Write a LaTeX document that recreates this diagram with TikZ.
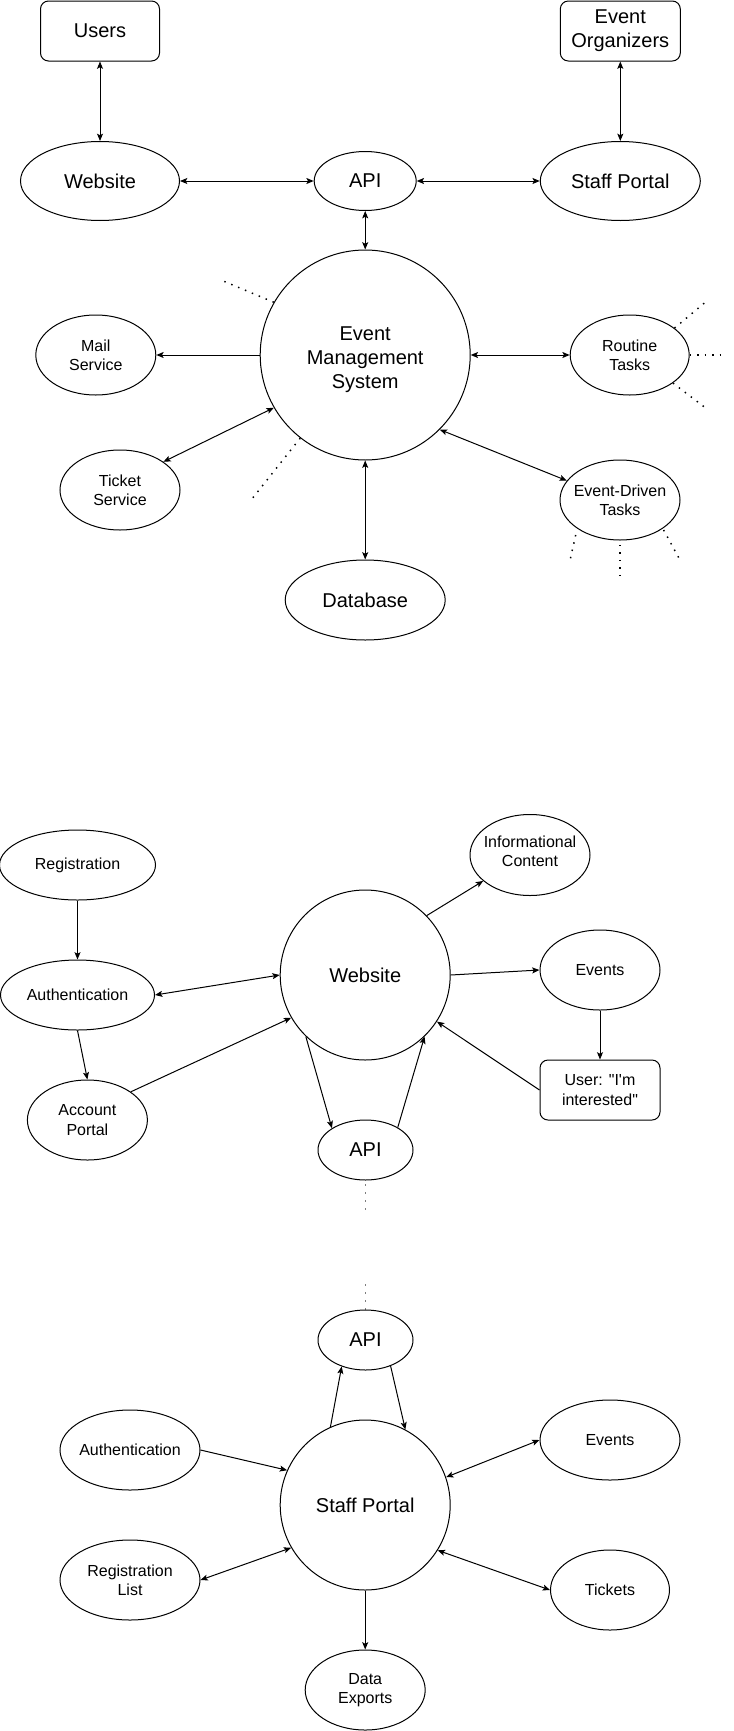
\documentclass[tikz,border=0pt]{standalone}
\usepackage{fontspec}
\newfontfamily\lsans{Liberation Sans}
\usetikzlibrary{arrows.meta,shapes.geometric}
\definecolor{dotgray}{RGB}{125,125,125}
\tikzset{
  base/.style={draw, line width=0.75pt, align=center, font=\lsans\fontsize{12}{14.4}\selectfont},
  big/.style={font=\lsans\fontsize{15}{18}\selectfont},
  el/.style 2 args={base, ellipse, inner sep=-4pt, minimum width=#1*0.75pt, minimum height=#2*0.75pt},
  rbox/.style 2 args={base, rectangle, inner sep=0pt, rounded corners=6pt, minimum width=#1*0.75pt, minimum height=#2*0.75pt},
  conn/.style={line width=0.75pt},
  dots/.style={line width=1.1pt, dash pattern=on 1.1pt off 4.5pt},
  gdots/.style={line width=1.3pt, dash pattern=on 1.3pt off 4.7pt, draw=dotgray},
  >={Stealth[length=5.5pt,width=4.5pt,inset=1.2pt]}
}
\begin{document}
\begin{tikzpicture}[x=0.75pt,y=-0.75pt]
\fill[white] (0,0) rectangle (733,1731);
\useasboundingbox (0,0) rectangle (733,1731);

% ---------- top diagram ----------
\node[rbox={119}{60}, big] (users) at (100,31) {Users};
\node[rbox={120}{60}, big] (eo) at (620.3,31) {Event\\Organizers};
\node[el={159}{79}, big] (web1) at (100,181) {Website};
\node[el={102}{59}, big] (api1) at (365.2,181) {API};
\node[el={160}{79}, big] (sp1) at (620.3,181) {Staff Portal};
\node[el={210}{210}, big] (ems) at (365.2,355) {\rule{0pt}{17pt}Event\\Management\\System};
\node[el={120}{80}] (mail) at (95.8,355) {Mail\\Service};
\node[el={120}{80}] (ticket) at (120,490) {Ticket\\Service};
\node[el={119}{80}] (rt) at (629.7,355) {Routine\\Tasks};
\node[el={120}{80}] (edt) at (620,500) {Event-Driven\\Tasks};
\node[el={160}{80}, big] (db) at (365.2,600) {Database};

\draw[conn,<->] (users.south) -- (web1.north);
\draw[conn,<->] (eo.south) -- (sp1.north);
\draw[conn,<->] (web1.east) -- (api1.west);
\draw[conn,<->] (api1.east) -- (sp1.west);
\draw[conn,<->] (api1.south) -- (ems.north);
\draw[conn,->] (ems.west) -- (mail.east);
\draw[conn,<->] (ticket.33.6) -- (ems.210.6);
\draw[conn,<->] (ems.east) -- (rt.west);
\draw[conn,<->] (ems.315.3) -- (edt.160.2);
\draw[conn,<->] (ems.south) -- (db.north);

\coordinate (c1) at (219.6,279.5);
\coordinate (c2) at (250.3,501);
\coordinate (c3) at (708,300);
\coordinate (c4) at (726,355);
\coordinate (c5) at (707,409);
\draw[dots] (ems.150) -- (c1);
\draw[dots] (ems.232.7) -- (c2);
\draw[dots] (rt.31.5) -- (c3);
\draw[dots] (rt.east) -- (c4);
\draw[dots] (rt.327) -- (c5);
\coordinate (d1a) at (575.7,535);
\coordinate (d1b) at (570.1,560);
\coordinate (d2a) at (620,545);
\coordinate (d2b) at (620,580);
\coordinate (d3a) at (663.6,530);
\coordinate (d3b) at (680,560);
\draw[dots] (d1a) -- (d1b);
\draw[dots] (d2a) -- (d2b);
\draw[dots] (d3a) -- (d3b);

% ---------- middle diagram ----------
\node[el={156}{70}] (reg) at (77.5,865) {Registration};
\node[el={154}{70}] (auth) at (77.5,995) {Authentication};
\node[el={120}{80}] (acct) at (87.4,1120) {Account\\Portal};
\node[el={170}{170}, big] (web2) at (365.2,975) {Website};
\node[el={120}{81}] (info) at (530,855) {Informational\\Content\rule[-6pt]{0pt}{6pt}};
\node[el={120}{80}] (ev2) at (600,970) {Events};
\node[rbox={120}{60}] (ubox) at (600,1090) {User: "I'm\\interested"};
\node[el={95}{60}, big] (api2) at (365.5,1150) {API};

\draw[conn,->] (reg.south) -- (auth.north);
\draw[conn,<->] (auth.east) -- (web2.west);
\draw[conn,->] (auth.south) -- (acct.north);
\draw[conn,->] (acct.33.2) -- (web2.210);
\draw[conn,->] (web2.44.5) -- (info.209.4);
\draw[conn,->] (web2.east) -- (ev2.west);
\draw[conn,->] (ev2.south) -- (ubox.north);
\draw[conn,->] (ubox.west) -- (web2.327);
\draw[conn,->] (web2.226.2) -- (api2.147.3);
\draw[conn,->] (api2.35.6) -- (web2.314.2);

\coordinate (g1) at (365.5,1184);
\coordinate (g2) at (365.5,1211);
\draw[gdots] (g1) -- (g2);

% ---------- bottom diagram ----------
\coordinate (g3) at (365.5,1284);
\coordinate (g4) at (365.5,1311);
\draw[gdots] (g3) -- (g4);
\node[el={95}{60}, big] (api3) at (365.5,1340) {API};
\node[el={170}{170}, big] (sp3) at (365.2,1505) {Staff Portal};
\node[el={140}{80}] (auth3) at (130,1450) {Authentication};
\node[el={140}{80}] (regl) at (130,1580) {Registration\\List};
\node[el={140}{80}] (ev3) at (610,1440) {Events};
\node[el={119}{80}] (tick) at (610,1590) {Tickets};
\node[el={120}{80}] (de) at (365.2,1690) {Data\\Exports};

\draw[conn,->] (sp3.114.2) -- (api3.228.4);
\draw[conn,->] (api3.314.2) -- (sp3.62.9);
\draw[conn,->] (auth3.east) -- (sp3.156.9);
\draw[conn,<->] (sp3.19.9) -- (ev3.west);
\draw[conn,<->] (regl.east) -- (sp3.210.5);
\draw[conn,<->] (sp3.328.6) -- (tick.west);
\draw[conn,->] (sp3.south) -- (de.north);
\end{tikzpicture}
\end{document}
